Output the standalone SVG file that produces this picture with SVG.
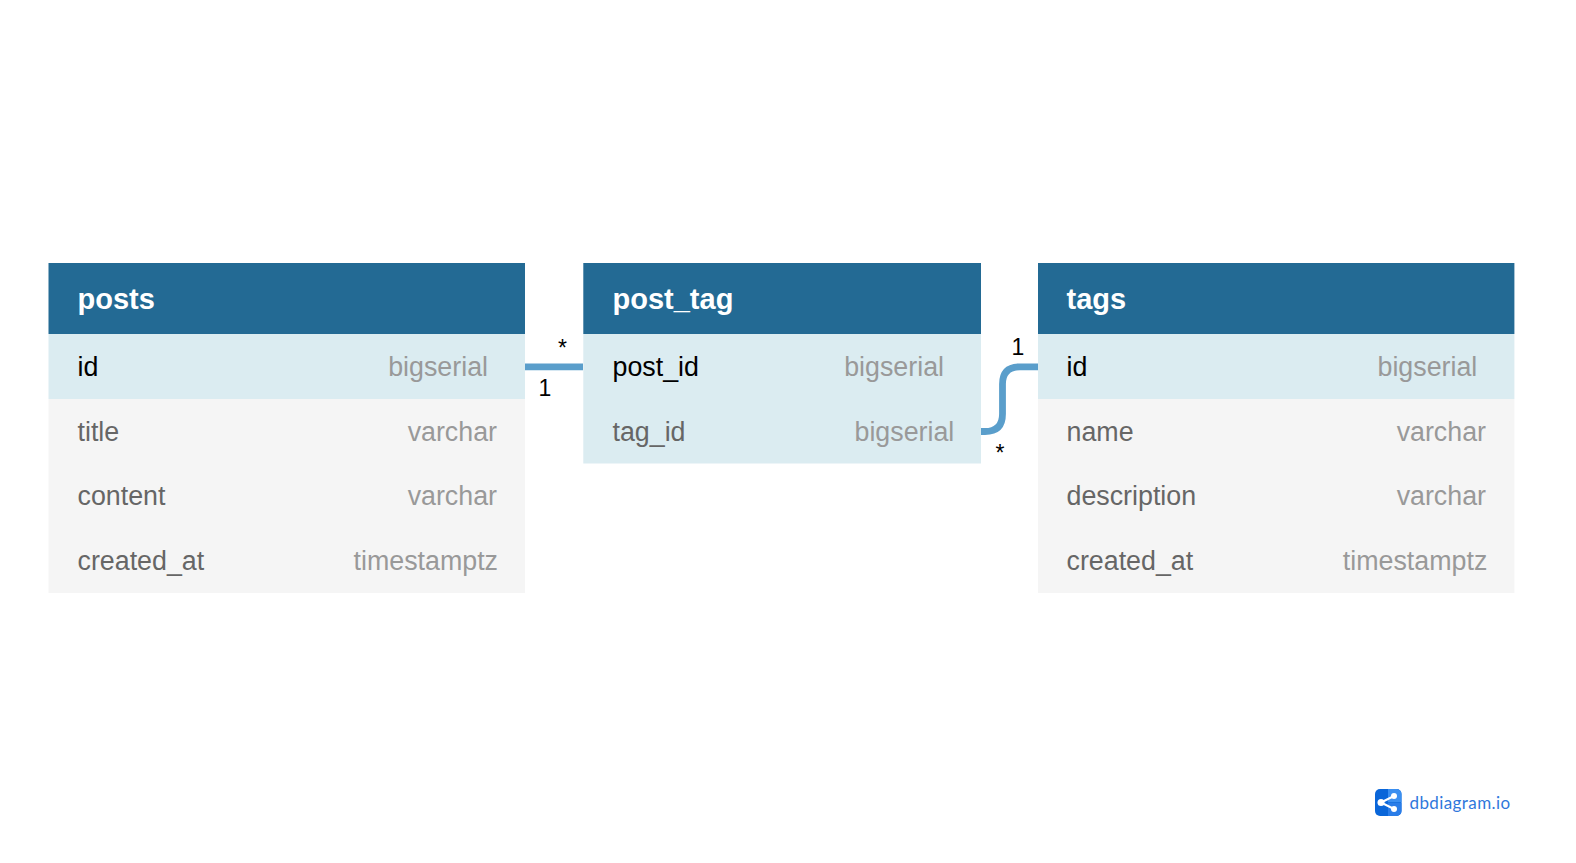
<svg xmlns="http://www.w3.org/2000/svg" width="1576" height="863" viewBox="0 0 1576 863">
<style>
text{font-family:"Liberation Sans",Arial,sans-serif}
.hd{fill:#236a94}.pk{fill:#dbecf1}.row{fill:#f5f5f5}
.title{font-size:29px;font-weight:700;fill:#fff}
.f{font-size:26.800px;fill:#666}.fk{font-size:26.800px;fill:#000}
.t{font-size:26.800px;fill:#999;text-anchor:end}
.c{fill:none;stroke:#5a9ecb;stroke-width:6.800}
.m{font-size:23px;fill:#000;text-anchor:middle}
</style>
<rect width="1576" height="863" fill="#fff"/>
<g id="posts">
<rect class="row" x="48.500" y="399" width="476.500" height="194"/>
<rect class="pk" x="48.500" y="334" width="476.500" height="65"/>
<rect class="hd" x="48.500" y="263" width="476.500" height="71"/>
<text class="title" x="77.500" y="309">posts</text>
<text class="fk" x="77.500" y="376">id</text><text class="t" x="488" y="376">bigserial</text>
<text class="f" x="77.500" y="441">title</text><text class="t" x="497" y="441">varchar</text>
<text class="f" x="77.500" y="505">content</text><text class="t" x="497" y="505">varchar</text>
<text class="f" x="77.500" y="570">created_at</text><text class="t" x="498" y="570">timestamptz</text>
</g>
<g id="post_tag">
<rect class="pk" x="583.300" y="334" width="397.700" height="129.500"/>
<rect class="hd" x="583.300" y="263" width="397.700" height="71"/>
<text class="title" x="612.500" y="309">post_tag</text>
<text class="fk" x="612.500" y="376">post_id</text><text class="t" x="944" y="376">bigserial</text>
<text class="f" x="612.500" y="441">tag_id</text><text class="t" x="954.300" y="441">bigserial</text>
</g>
<g id="tags">
<rect class="row" x="1038" y="399" width="476.400" height="194"/>
<rect class="pk" x="1038" y="334" width="476.400" height="65"/>
<rect class="hd" x="1038" y="263" width="476.400" height="71"/>
<text class="title" x="1066.500" y="309">tags</text>
<text class="fk" x="1066.500" y="376">id</text><text class="t" x="1477.300" y="376">bigserial</text>
<text class="f" x="1066.500" y="441">name</text><text class="t" x="1486" y="441">varchar</text>
<text class="f" x="1066.500" y="505">description</text><text class="t" x="1486" y="505">varchar</text>
<text class="f" x="1066.500" y="570">created_at</text><text class="t" x="1487.300" y="570">timestamptz</text>
</g>
<g id="connectors">
<path class="c" d="M525 366.800H583"/>
<path class="c" d="M981 431.500H985Q1002.500 431.500 1002.500 414V384Q1002.500 366.800 1020 366.800H1038"/>
<text class="m" x="562.500" y="355.500">*</text>
<text class="m" x="545" y="396">1</text>
<text class="m" x="1018" y="355">1</text>
<text class="m" x="1000" y="460.500">*</text>
</g>
<g id="logo">
<rect x="1375" y="789" width="26.500" height="27" rx="5" fill="#0a66d9"/>
<path d="M1388 789H1396.500A5 5 0 0 1 1401.500 794V802.200H1388Z" fill="#3b8ff0"/>
<path d="M1388 802.800H1401.500V811A5 5 0 0 1 1396.500 816H1388Z" fill="#2a7de8"/>
<path d="M1381 802.500L1394 796M1381 802.500L1394 809" stroke="#fff" stroke-width="2" fill="none"/>
<circle cx="1381" cy="802.500" r="3.500" fill="#fff"/><circle cx="1394" cy="796" r="3" fill="#fff"/><circle cx="1394" cy="809" r="3" fill="#fff"/>
<text x="1409.500" y="809" font-size="17" fill="#3078dc" style="font-family:Lato,'Noto Sans',sans-serif;letter-spacing:.4px">dbdiagram.io</text>
</g>
</svg>
